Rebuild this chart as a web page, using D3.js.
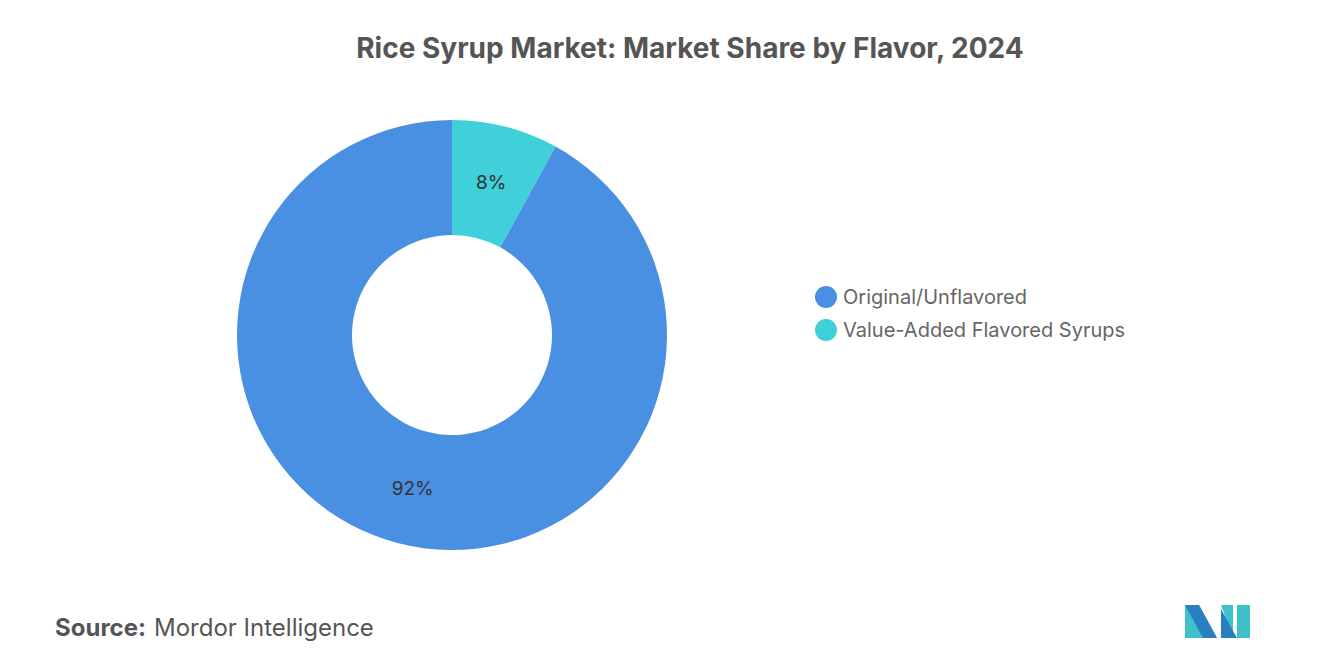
<!DOCTYPE html>
<html><head><meta charset="utf-8">
<script src="https://cdn.jsdelivr.net/npm/d3@7"></script>
<style>body{margin:0;background:#fff;font-family:Inter,"Open Sans",sans-serif}</style>
</head><body><div id="chart"></div>
<script>
let WIDTH = 1320
let HEIGHT = 665
let labels = ['Value-Added Flavored Syrups', 'Original/Unflavored']
let values = [8, 92]
let colors = ['#3fd0d9', '#4a90e2']
let legendOrder = ['Original/Unflavored', 'Value-Added Flavored Syrups']

let svg = d3.select('#chart').append('svg')
    .attr('width', WIDTH)
    .attr('height', HEIGHT)

svg.append('text')
    .attr('x', 690).attr('y', 58)
    .attr('text-anchor', 'middle')
    .attr('font-size', 28).attr('font-weight', 700)
    .attr('fill', '#555')
    .text('Rice Syrup Market: Market Share by Flavor, 2024')

let color = d3.scaleOrdinal().domain(labels).range(colors)
let pie = d3.pie().sort(null).value(d => d.v)
let arcs = pie(labels.map((l, i) => ({l: l, v: values[i]})))
let arc = d3.arc().innerRadius(100).outerRadius(215)
let labelArc = d3.arc().innerRadius(158).outerRadius(158)

let g = svg.append('g').attr('transform', 'translate(452,335)')
g.selectAll('path').data(arcs).enter().append('path')
    .attr('d', arc)
    .attr('fill', d => color(d.data.l))

g.selectAll('text').data(arcs).enter().append('text')
    .attr('transform', d => `translate(${labelArc.centroid(d)})`)
    .attr('text-anchor', 'middle').attr('dy', '0.35em')
    .attr('font-size', 19).attr('fill', '#333')
    .text(d => d.data.v + '%')

let leg = svg.append('g')
legendOrder.forEach((l, i) => {
    let y = 297 + i * 33
    leg.append('circle').attr('cx', 826).attr('cy', y).attr('r', 11).attr('fill', color(l))
    leg.append('text').attr('x', 843).attr('y', y).attr('dy', '0.35em')
        .attr('font-size', 20).attr('fill', '#666').text(l)
})

let src = svg.append('text').attr('x', 55).attr('y', 636).attr('font-size', 24).attr('fill', '#555')
src.append('tspan').attr('font-weight', 700).text('Source:')
src.append('tspan').attr('dx', 8).text('Mordor Intelligence')

// logo
let logo = svg.append('g').attr('transform', 'translate(1185,605)')
logo.append('polygon').attr('points', '0,0 14,0 32,33 0,33').attr('fill', '#3fc1c9')
logo.append('polygon').attr('points', '0,0 14,0 32,33 18,33').attr('fill', '#2a7fc1')
logo.append('polygon').attr('points', '36,0 48,0 48,33').attr('fill', '#3fc1c9')
logo.append('polygon').attr('points', '36,4 36,33 52,33').attr('fill', '#2a7fc1')
logo.append('rect').attr('x', 52).attr('y', 0).attr('width', 13).attr('height', 33).attr('fill', '#3fc1c9')
</script></body></html>
